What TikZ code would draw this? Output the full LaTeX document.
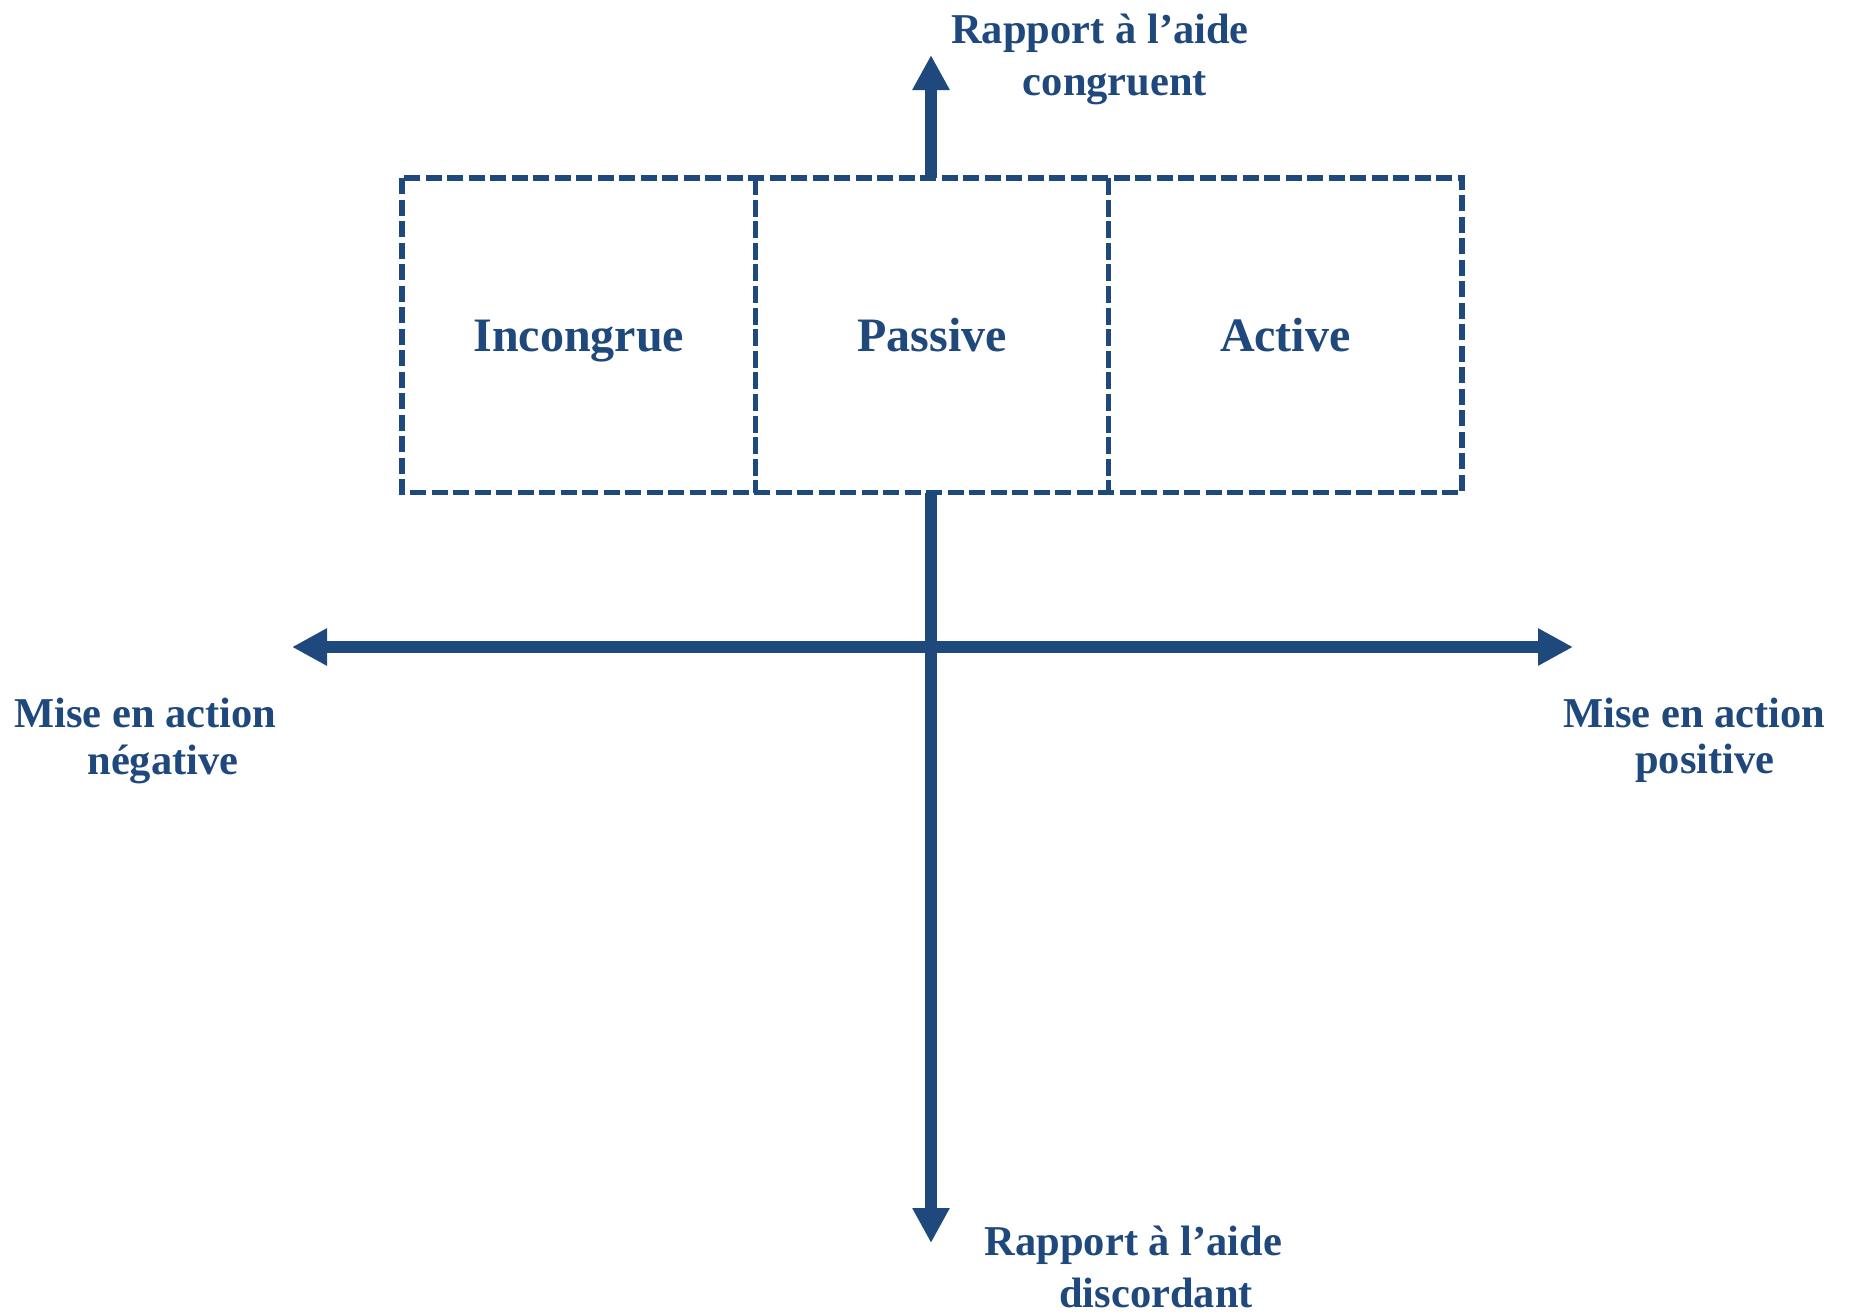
\documentclass[tikz,border=0pt]{standalone}
\usepackage{fontspec}
\setmainfont{Liberation Serif}
\usetikzlibrary{arrows.meta}
\definecolor{axisblue}{RGB}{31,73,125}
\begin{document}
\begin{tikzpicture}[x=0.5pt,y=-0.5pt,
  axis/.style={draw=axisblue,line width=6pt},
  boxline/.style={draw=axisblue,line width=2.75pt,dash pattern=on 8pt off 2.75pt},
  divline/.style={draw=axisblue,line width=2.2pt,dash pattern=on 8.5pt off 2.3pt},
  cell/.style={inner sep=0pt,outer sep=0pt,minimum width=176.67pt,minimum height=157.25pt,
    text height=16pt,text depth=0pt,text=axisblue,font=\bfseries\fontsize{24pt}{28pt}\selectfont},
  lab/.style={inner sep=0pt,outer sep=0pt,anchor=base,text=axisblue,font=\bfseries\fontsize{21.25pt}{25pt}\selectfont},
  tip/.style={-{Triangle[length=17.5pt,width=17.5pt]}}
]
\useasboundingbox (0,0) rectangle (1849,1313);
\fill[white] (0,0) rectangle (1849,1313);

% cells
\node[cell] (c1) at (578.7,335.25) {Incongrue};
\node[cell] (c2) at (932,335.25) {Passive};
\node[cell] (c3) at (1285.3,335.25) {Active};

% coordinates of arrow tips
\coordinate (topTip) at (931,55);
\coordinate (botTip) at (931,1243);
\coordinate (leftTip) at (292,647);
\coordinate (rightTip) at (1573,647);

% axes
\draw[axis,{Triangle[length=17.5pt,width=17.5pt]}-{Triangle[length=17.5pt,width=17.5pt]}] (leftTip) -- (rightTip);
\draw[axis,tip] (c2.north -| topTip) -- (topTip);
\draw[axis,tip] (c2.south -| botTip) -- (botTip);

% box
\draw[divline] (c1.north east) -- (c1.south east);
\draw[divline] (c2.north east) -- (c2.south east);
\draw[boxline] (c1.north west) rectangle (c3.south east);

% labels
\node[lab] (t1) at (1100,43) {Rapport à l’aide};
\node[lab] (t2) at (1115,95) {congruent};
\node[lab] (l1) at (145.5,727) {Mise en action};
\node[lab] (l2) at (163,774) {négative};
\node[lab] (r1) at (1694.5,727) {Mise en action};
\node[lab] (r2) at (1705,773) {positive};
\node[lab] (b1) at (1133.5,1255) {Rapport à l’aide};
\node[lab] (b2) at (1156,1307) {discordant};
\end{tikzpicture}
\end{document}
